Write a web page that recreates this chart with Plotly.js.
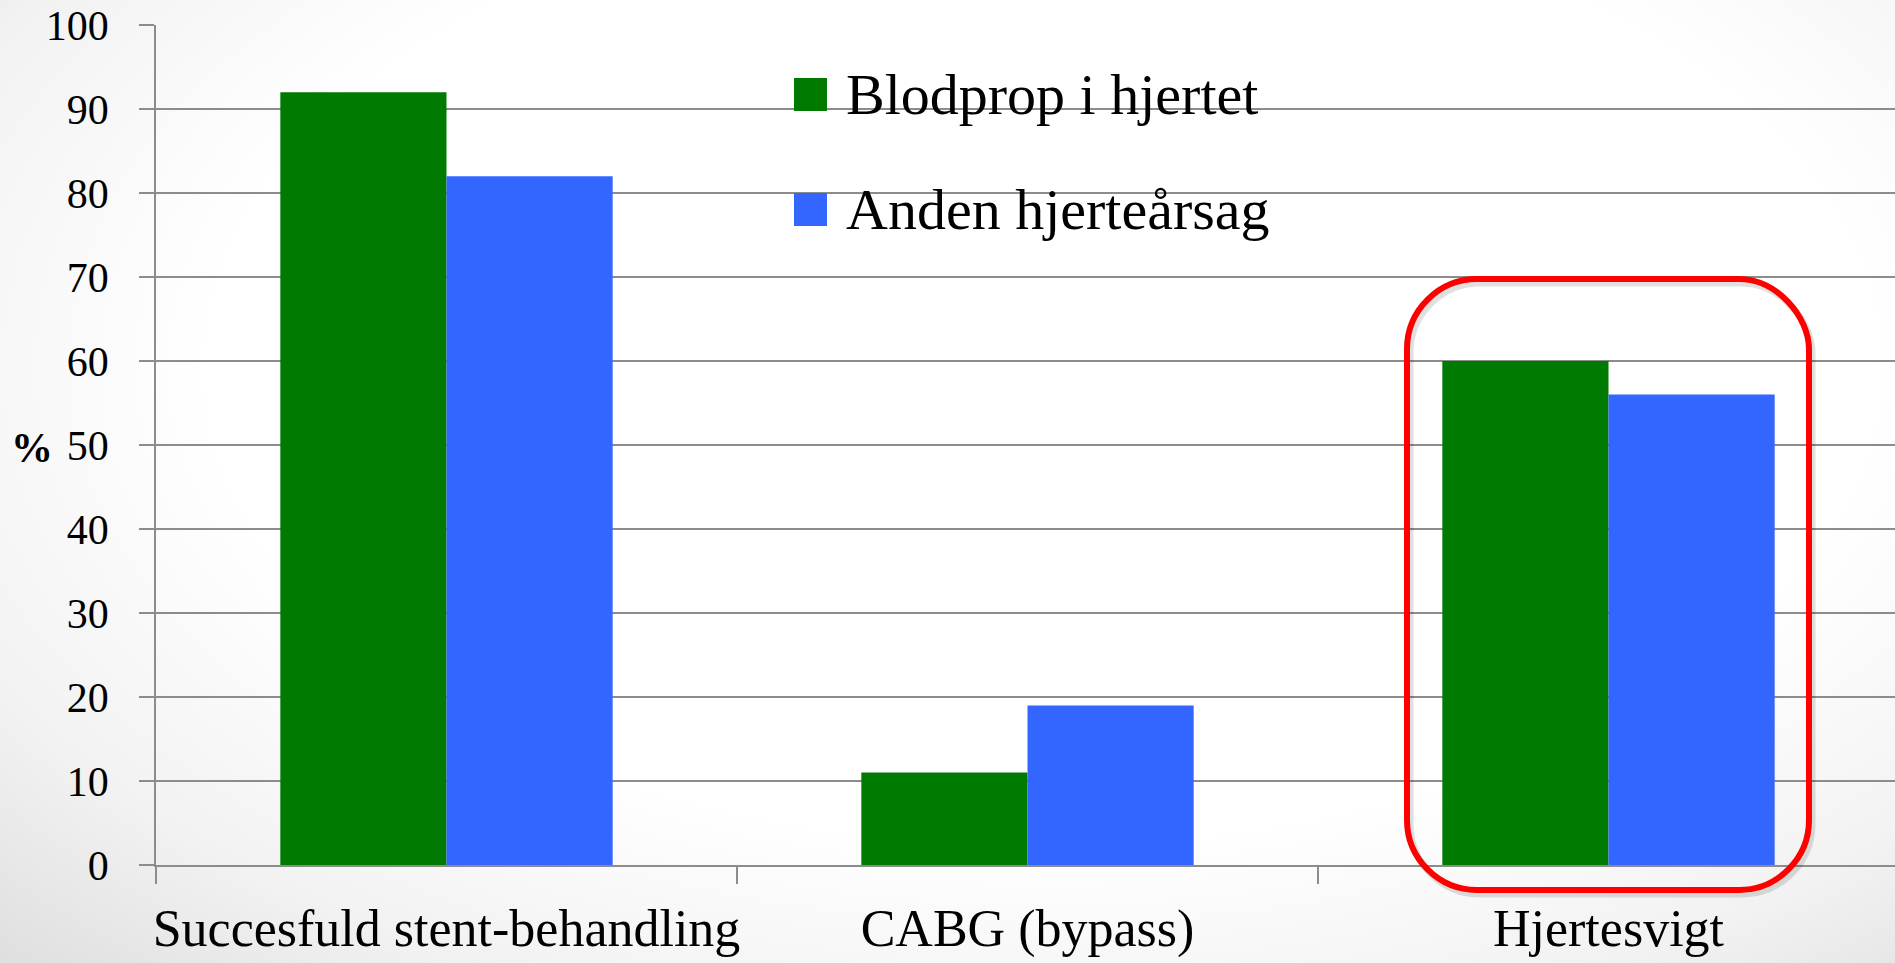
<!DOCTYPE html>
<html>
<head>
<meta charset="utf-8">
<script src="https://cdn.plot.ly/plotly-3.0.1.min.js"></script>
<style>
  html, body { margin:0; padding:0; width:1895px; height:963px; overflow:hidden;
    background: radial-gradient(ellipse 80% 90% at 55% 38%, #ffffff 0%, #ffffff 55%, #f2f2f2 78%, #dcdcdc 100%); }
  #chart { width:1895px; height:963px; }
</style>
</head>
<body>
<div id="chart"></div>
<script>
// ---- data ----
const categories = ["Succesfuld stent-behandling", "CABG (bypass)", "Hjertesvigt"];
const seriesNames = ["Blodprop i hjertet", "Anden hjerteårsag"];
const blodprop = [92, 11, 60];
const andenAarsag = [82, 19, 56];
const yTicks = [0, 10, 20, 30, 40, 50, 60, 70, 80, 90, 100];
const yTitle = "%";

// ---- styling ----
const colors = ["#007a00", "#3366ff"];
const W = 1895, H = 963;
const M = { l: 156, r: 0, t: 25, b: 98 };
const plotW = W - M.l - M.r, plotH = H - M.t - M.b;
const px = x => (x - M.l) / plotW;      // pixel x -> paper fraction
const py = y => (H - M.b - y) / plotH;  // pixel y -> paper fraction
const font = "Liberation Serif";
const gridCol = "#8c8c8c";
const catWidthPx = 581;

const traces = [
  { type: "bar", name: seriesNames[0], x: categories, y: blodprop,
    marker: { color: colors[0] }, showlegend: false, hoverinfo: "x+y+name" },
  { type: "bar", name: seriesNames[1], x: categories, y: andenAarsag,
    marker: { color: colors[1] }, showlegend: false, hoverinfo: "x+y+name" }
];

function roundedRect(x0p, y0p, x1p, y1p, r) {
  const x0 = px(x0p), x1 = px(x1p), yT = py(y0p), yB = py(y1p);
  const rx = r / plotW, ry = r / plotH, k = 0.45;
  return `M ${x0 + rx},${yT} L ${x1 - rx},${yT} ` +
    `C ${x1 - rx * k},${yT} ${x1},${yT - ry * (1 - k)} ${x1},${yT - ry} ` +
    `L ${x1},${yB + ry} ` +
    `C ${x1},${yB + ry * k} ${x1 - rx * k},${yB} ${x1 - rx},${yB} ` +
    `L ${x0 + rx},${yB} ` +
    `C ${x0 + rx * k},${yB} ${x0},${yB + ry * k} ${x0},${yB + ry} ` +
    `L ${x0},${yT - ry} ` +
    `C ${x0},${yT - ry * k} ${x0 + rx * k},${yT} ${x0 + rx},${yT} Z`;
}

const shapes = [
  // legend backdrop
  { type: "rect", xref: "paper", yref: "paper", x0: px(701), x1: px(1360), y0: py(268), y1: py(32),
    fillcolor: "#ffffff", line: { width: 0 }, layer: "between" },
  // legend swatches
  { type: "rect", xref: "paper", yref: "paper", x0: px(794), x1: px(827), y0: py(111), y1: py(78),
    fillcolor: colors[0], line: { width: 0 }, layer: "above" },
  { type: "rect", xref: "paper", yref: "paper", x0: px(794), x1: px(827), y0: py(226), y1: py(193),
    fillcolor: colors[1], line: { width: 0 }, layer: "above" },
  // highlight shadow
  { type: "path", xref: "paper", yref: "paper", path: roundedRect(1410, 283, 1812, 894, 70),
    line: { color: "rgba(0,0,0,0.12)", width: 7 }, fillcolor: "rgba(0,0,0,0)", layer: "above" },
  // highlight box
  { type: "path", xref: "paper", yref: "paper", path: roundedRect(1407, 279, 1809, 890, 70),
    line: { color: "#ff0000", width: 6 }, fillcolor: "rgba(0,0,0,0)", layer: "above" }
];

const annotations = [
  { xref: "paper", yref: "paper", x: px(844), y: py(94.5), xanchor: "left", yanchor: "middle",
    text: seriesNames[0], showarrow: false, font: { family: font, size: 58, color: "#000" } },
  { xref: "paper", yref: "paper", x: px(844), y: py(209.5), xanchor: "left", yanchor: "middle",
    text: seriesNames[1], showarrow: false, font: { family: font, size: 58, color: "#000" } },
  { xref: "paper", yref: "paper", x: px(32), y: py(448), xanchor: "center", yanchor: "middle",
    text: "<b>" + yTitle + "</b>", showarrow: false, font: { family: font, size: 42, color: "#000" } }
];

const layout = {
  width: W, height: H,
  margin: M,
  paper_bgcolor: "rgba(0,0,0,0)",
  plot_bgcolor: "rgba(0,0,0,0)",
  barmode: "group",
  bargap: 0.428,
  bargroupgap: 0,
  showlegend: false,
  font: { family: font, color: "#000" },
  xaxis: {
    type: "category",
    range: [-0.5, -0.5 + plotW / catWidthPx],
    showline: true, linecolor: gridCol, linewidth: 1.5,
    ticks: "outside", ticklen: 17, tickcolor: gridCol, tickwidth: 1.5,
    tickson: "boundaries",
    tickangle: 0,
    showgrid: false,
    tickfont: { family: font, size: 52, color: "#000" },
    ticklabelstandoff: 17,
    fixedrange: true
  },
  yaxis: {
    range: [0, 100],
    tickvals: yTicks,
    ticktext: yTicks.map(String),
    showline: true, linecolor: gridCol, linewidth: 1.5,
    ticks: "outside", ticklen: 15, tickcolor: gridCol, tickwidth: 1.5,
    showgrid: true, gridcolor: gridCol, gridwidth: 1.5,
    zeroline: false,
    tickfont: { family: font, size: 42, color: "#000" },
    ticklabelstandoff: 22,
    fixedrange: true
  },
  shapes: shapes,
  annotations: annotations
};

Plotly.newPlot("chart", traces, layout, { displayModeBar: false, staticPlot: false });
</script>
</body>
</html>
